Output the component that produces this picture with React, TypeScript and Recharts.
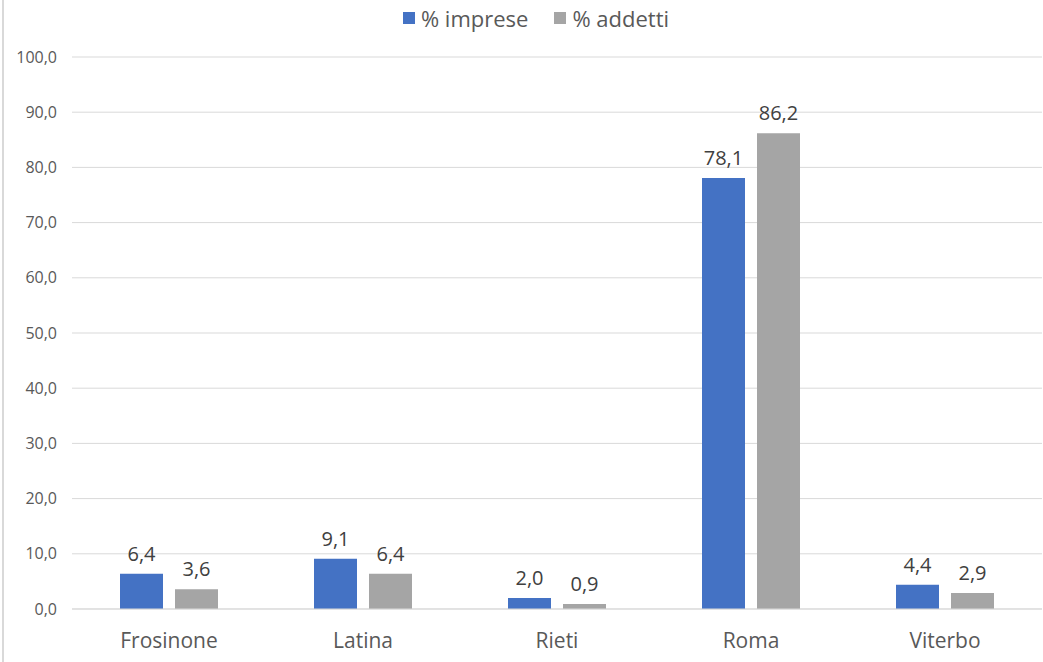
import React from "react";
import { BarChart, Bar, XAxis, YAxis, CartesianGrid, Legend, LabelList } from "recharts";

const categories = ["Frosinone", "Latina", "Rieti", "Roma", "Viterbo"];
const imprese = [6.4, 9.1, 2.0, 78.1, 4.4];
const addetti = [3.6, 6.4, 0.9, 86.2, 2.9];
const yTicks = [0, 10, 20, 30, 40, 50, 60, 70, 80, 90, 100];
const seriesNames = ["% imprese", "% addetti"];
const seriesColors = ["#4472C4", "#A5A5A5"];

const data = categories.map((c, i) => ({ name: c, imprese: imprese[i], addetti: addetti[i] }));

const fmt = (v: number) => v.toFixed(1).replace(".", ",");
const FONT = "'Open Sans', sans-serif";

const LegendContent = () => (
  <div style={{ display: "flex", justifyContent: "center", alignItems: "center", fontFamily: FONT, fontSize: 22, color: "#595959", height: 30, paddingLeft: 30 }}>
    {seriesNames.map((n, i) => (
      <div key={n} style={{ display: "flex", alignItems: "center", marginLeft: i === 0 ? 0 : 26 }}>
        <span style={{ display: "inline-block", width: 12, height: 12, background: seriesColors[i], marginRight: 6 }} />
        <span>{n}</span>
      </div>
    ))}
  </div>
);

export default function App() {
  return (
    <div style={{ position: "absolute", left: 0, top: 0, width: 1043, height: 662, background: "#fff", fontFamily: FONT }}>
      <div style={{ position: "absolute", left: 2, top: 0, width: 2, height: 662, background: "#d9d9d9" }} />
      <BarChart
        width={1043}
        height={662}
        data={data}
        margin={{ top: 27, right: 1, left: 0, bottom: 0 }}
        barGap={12}
        barSize={43}
      >
        <Legend
          verticalAlign="top"
          align="center"
          height={30}
          content={<LegendContent />}
          wrapperStyle={{ top: 3 }}
        />
        <CartesianGrid vertical={false} stroke="#d9d9d9" />
        <XAxis
          dataKey="name"
          height={53}
          tickLine={false}
          axisLine={{ stroke: "#d9d9d9" }}
          tickSize={0}
          tickMargin={24}
          tick={{ fill: "#595959", fontSize: 21, fontFamily: FONT }}
        />
        <YAxis
          width={72}
          domain={[0, 100]}
          ticks={yTicks}
          interval={0}
          tickFormatter={fmt}
          axisLine={false}
          tickLine={false}
          tickSize={0}
          tickMargin={15}
          tick={{ fill: "#595959", fontSize: 16, fontFamily: FONT }}
        />
        <Bar dataKey="imprese" name={seriesNames[0]} fill={seriesColors[0]} isAnimationActive={false}>
          <LabelList dataKey="imprese" position="top" offset={13} formatter={(v: number) => fmt(v)} style={{ fill: "#404040", fontSize: 20, fontFamily: FONT }} />
        </Bar>
        <Bar dataKey="addetti" name={seriesNames[1]} fill={seriesColors[1]} isAnimationActive={false}>
          <LabelList dataKey="addetti" position="top" offset={13} formatter={(v: number) => fmt(v)} style={{ fill: "#404040", fontSize: 20, fontFamily: FONT }} />
        </Bar>
      </BarChart>
    </div>
  );
}
